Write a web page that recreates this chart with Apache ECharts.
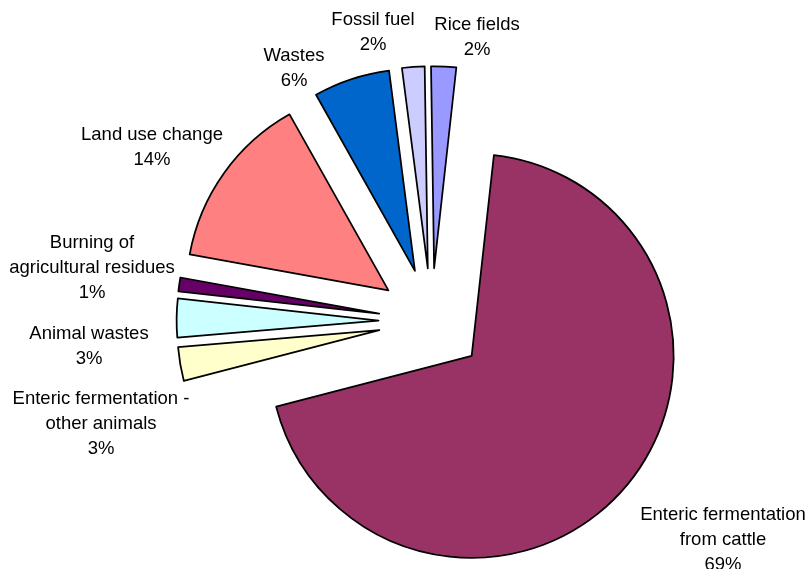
<!DOCTYPE html>
<html>
<head>
<meta charset="utf-8">
<title>Sources of methane emissions</title>
<script src="https://cdn.jsdelivr.net/npm/echarts@6/dist/echarts.min.js"></script>
<style>
  html, body { margin: 0; padding: 0; background: #fff; }
  #chart { width: 809px; height: 569px; }
</style>
</head>
<body>
<div id="chart"></div>
<script>
// Emission sources, in drawing order (clockwise from 12 o'clock)
const categories = [
  'Rice fields',
  'Enteric fermentation\nfrom cattle',
  'Enteric fermentation -\nother animals',
  'Animal wastes',
  'Burning of\nagricultural residues',
  'Land use change',
  'Wastes',
  'Fossil fuel'
];
// Share of total emissions, percent
const shares = [2.0, 69.2, 2.7, 3.1, 1.1, 14.0, 6.1, 1.8];
// Classic office-chart fill palette
const fills = ['#9999FF', '#993366', '#FFFFCC', '#CCFFFF', '#660066', '#FF8080', '#0066CC', '#CCCCFF'];

// Where each label block is centred (px)
const labelCentres = [
  [477, 37],
  [723, 540],
  [101, 424],
  [89, 346],
  [92, 268],
  [152, 147],
  [294, 68],
  [373, 32]
];

const chart = echarts.init(document.getElementById('chart'), null, { renderer: 'canvas' });

const border = { borderColor: '#000', borderWidth: 1.75 };
const pieCentre = [431.6, 321.2];
const pieRadius = [0, 202];
const pieStart = 90.88;

chart.setOption({
  animation: false,
  backgroundColor: '#fff',
  series: [
    {
      // Exploded slices
      type: 'pie',
      center: pieCentre,
      radius: pieRadius,
      startAngle: pieStart,
      clockwise: true,
      selectedMode: 'multiple',
      selectedOffset: 53,
      silent: true,
      itemStyle: border,
      select: { itemStyle: border },
      emphasis: { disabled: true },
      label: { show: false },
      labelLine: { show: false },
      data: categories.map(function (name, i) {
        return {
          name: name,
          value: shares[i],
          selected: true,
          itemStyle: { color: fills[i] }
        };
      })
    },
    {
      // Same slices again, unfilled, carrying the category / percent labels
      type: 'pie',
      center: pieCentre,
      radius: pieRadius,
      startAngle: pieStart,
      clockwise: true,
      selectedMode: false,
      percentPrecision: 0,
      avoidLabelOverlap: false,
      silent: true,
      z: 3,
      itemStyle: { color: 'rgba(0,0,0,0)', borderWidth: 0 },
      emphasis: { disabled: true },
      label: {
        show: true,
        position: 'outside',
        formatter: '{b}\n{d}%',
        color: '#000',
        fontFamily: '"Liberation Sans", Arial, sans-serif',
        fontSize: 18.5,
        lineHeight: 25,
        align: 'center',
        verticalAlign: 'middle'
      },
      labelLine: { show: false },
      labelLayout: function (p) {
        const c = labelCentres[p.dataIndex];
        return { x: c[0], y: c[1], align: 'center', verticalAlign: 'middle' };
      },
      data: categories.map(function (name, i) {
        return { name: name, value: shares[i] };
      })
    }
  ]
});
</script>
</body>
</html>
